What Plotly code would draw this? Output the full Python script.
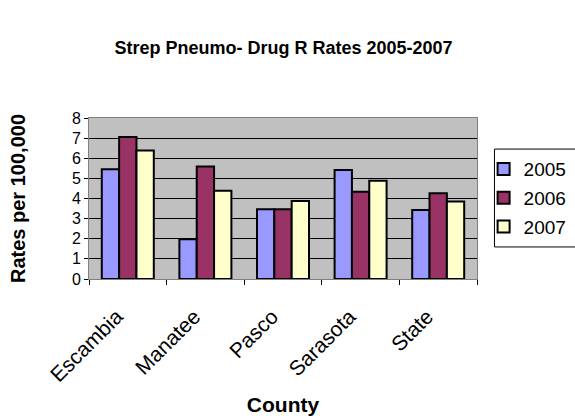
import plotly.graph_objects as go

counties = ["Escambia", "Manatee", "Pasco", "Sarasota", "State"]
years = ["2005", "2006", "2007"]
rates_2005 = [5.45, 1.98, 3.47, 5.42, 3.43]
rates_2006 = [7.05, 5.59, 3.47, 4.34, 4.26]
rates_2007 = [6.38, 4.39, 3.88, 4.88, 3.85]
colors = ["#9999FF", "#993366", "#FFFFCC"]

FONT = "Liberation Sans, Arial, sans-serif"

fig = go.Figure()
for yr, vals, col in zip(years, [rates_2005, rates_2006, rates_2007], colors):
    fig.add_trace(go.Bar(
        x=counties, y=vals, name=yr, legendgroup=yr,
        marker=dict(color=col, line=dict(color="black", width=2)),
    ))

# legend frame, running off the right page edge
fig.add_shape(type="rect", xref="paper", yref="paper",
              x0=1.045, x1=1.3, y0=0.199, y1=0.807,
              line=dict(color="black", width=1), fillcolor="rgba(0,0,0,0)")

fig.update_layout(
    width=575, height=416,
    margin=dict(l=89, r=98, t=118, b=137, autoexpand=False),
    paper_bgcolor="white", plot_bgcolor="#C0C0C0",
    barmode="group", bargap=0.33, bargroupgap=0,
    font=dict(family=FONT, color="black"),
    title=dict(text="<b>Strep Pneumo- Drug R Rates 2005-2007</b>",
               x=0.493, xanchor="center", y=0.885, yanchor="middle",
               font=dict(size=18, family=FONT)),
    legend=dict(x=1.017, xanchor="left", y=0.80, yanchor="top",
                borderwidth=0, bgcolor="rgba(0,0,0,0)",
                font=dict(size=19, family=FONT), tracegroupgap=1,
                itemwidth=30),
    showlegend=True,
)
fig.update_xaxes(
    tickangle=-45, tickfont=dict(size=21), ticks="outside", ticklen=5,
    tickcolor="black", tickson="boundaries",
    ticklabelstandoff=16, ticklabelshift=-11,
    showline=True, linecolor="#808080", linewidth=1, mirror=True,
    title=dict(text="<b>County</b>", font=dict(size=21), standoff=12),
)
fig.update_yaxes(
    range=[0, 8], dtick=1, tickfont=dict(size=16), ticks="outside", ticklen=4,
    tickcolor="black", showgrid=True, gridcolor="black", gridwidth=1,
    showline=True, linecolor="#808080", linewidth=1, mirror=True,
    zeroline=False,
    title=dict(text="<b>Rates per 100,000</b>", font=dict(size=20), standoff=40),
)

fig.write_html("out.html")
